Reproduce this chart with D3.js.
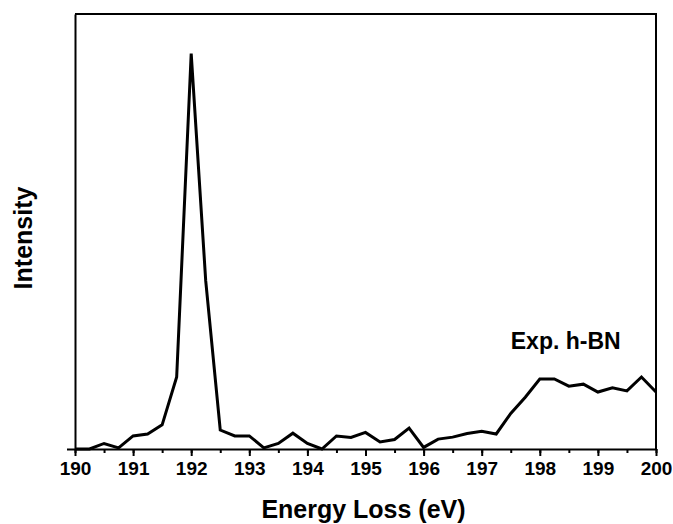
<!DOCTYPE html>
<meta charset="utf-8">
<script src="https://d3js.org/d3.v7.min.js"></script>
<style>
  body { margin: 0; background: #fff; }
  text { font-family: Arial, "Liberation Sans", sans-serif; font-weight: bold; }
</style>
<div id="my_dataviz"></div>
<script>

// energy loss (eV), 0.25 eV steps
var energy = d3.range(41).map(function(i) { return 190 + i * 0.25; });

// intensity (arb. units, peak = 100)
var intensity = [
  0, 0, 1.4, 0.3, 3.3, 3.8, 6.1, 18.2, 100, 42.5,
  4.8, 3.3, 3.3, 0.3, 1.4, 4.0, 1.4, 0, 3.3, 2.9,
  4.2, 1.8, 2.4, 5.3, 0.4, 2.5, 3.0, 3.9, 4.5, 3.8,
  9.0, 13.1, 17.7, 17.7, 15.9, 16.4, 14.4, 15.5, 14.7, 18.2,
  14.4
];

var xTicks = [190, 191, 192, 193, 194, 195, 196, 197, 198, 199, 200];
var xMinor = d3.range(21).map(function(i) { return 190 + i * 0.5; });

var data = energy.map(function(e, i) { return {e: e, v: intensity[i]}; });

var margin = {top: 14, right: 17, bottom: 75, left: 75},
    width = 673 - margin.left - margin.right,
    height = 524 - margin.top - margin.bottom;

var svg = d3.select("#my_dataviz")
  .append("svg")
    .attr("width", 673)
    .attr("height", 524)
  .append("g")
    .attr("transform", "translate(" + margin.left + "," + margin.top + ")");

var x = d3.scaleLinear().domain([190, 200]).range([0, width]);
var y = d3.scaleLinear().domain([0, 110]).range([height, 0]);

// frame (top and right)
svg.append("path")
  .attr("d", "M0,0H" + width + "V" + height)
  .attr("fill", "none")
  .attr("stroke", "#000")
  .attr("stroke-width", 2);

// minor ticks on x
svg.append("g")
  .attr("transform", "translate(0," + height + ")")
  .call(d3.axisBottom(x).tickValues(xMinor).tickSize(4).tickFormat(""))
  .call(function(g) { g.select(".domain").remove(); })
  .selectAll("line").attr("stroke-width", 2);

// major x axis
var xa = svg.append("g")
  .attr("transform", "translate(0," + height + ")")
  .call(d3.axisBottom(x).tickValues(xTicks).tickSize(7).tickSizeOuter(0).tickPadding(6).tickFormat(d3.format("d")));
xa.select(".domain").attr("stroke-width", 2);
xa.selectAll("line").attr("stroke-width", 2);
xa.selectAll("text").attr("font-size", 19).attr("fill", "#000");

// y axis (no labels)
var ya = svg.append("g")
  .call(d3.axisLeft(y).tickValues([0]).tickSize(8).tickSizeOuter(0).tickFormat(""));
ya.select(".domain").attr("stroke-width", 2);
ya.selectAll("line").attr("stroke-width", 2);

// spectrum
svg.append("path")
  .datum(data)
  .attr("fill", "none")
  .attr("stroke", "#000")
  .attr("stroke-width", 3)
  .attr("stroke-linejoin", "miter")
  .attr("d", d3.line()
    .x(function(d) { return x(d.e); })
    .y(function(d) { return y(d.v); }));

// label
svg.append("text")
  .attr("x", x(197.5))
  .attr("y", y(25.4))
  .attr("font-size", 23)
  .text("Exp. h-BN");

// axis titles
svg.append("text")
  .attr("x", width / 2 - 2)
  .attr("y", height + 69)
  .attr("text-anchor", "middle")
  .attr("font-size", 25)
  .text("Energy Loss (eV)");

svg.append("text")
  .attr("transform", "translate(" + (32 - margin.left) + "," + (238 - margin.top) + ") rotate(-90)")
  .attr("text-anchor", "middle")
  .attr("font-size", 25)
  .text("Intensity");

</script>
